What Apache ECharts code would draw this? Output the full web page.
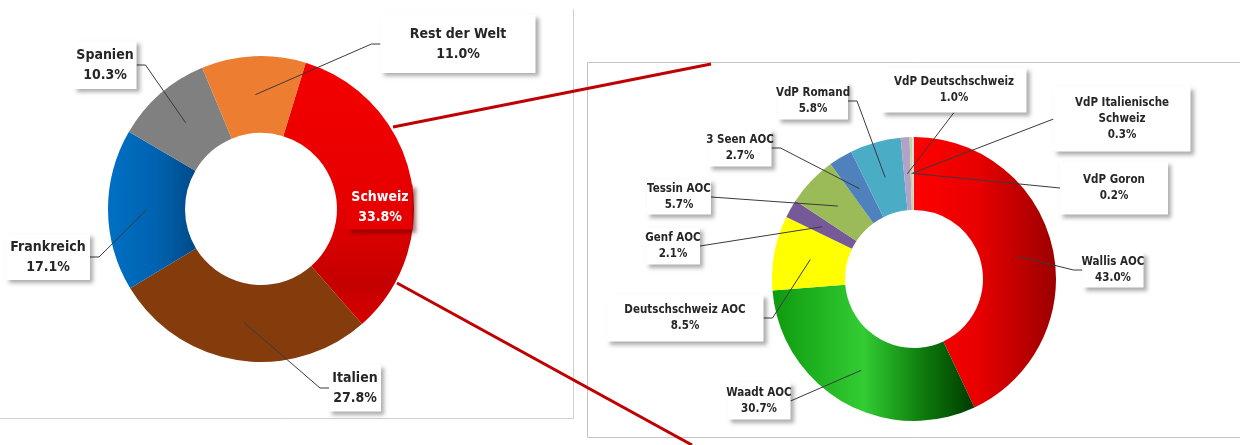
<!DOCTYPE html>
<html>
<head>
<meta charset="utf-8">
<script src="https://cdn.jsdelivr.net/npm/echarts@6/dist/echarts.min.js"></script>
<style>
  html, body { margin: 0; padding: 0; background: #fff; }
  #chart { width: 1240px; height: 445px; }
</style>
</head>
<body>
<div id="chart"></div>
<script>
// Herkunft der konsumierten Weine (links) und Aufteilung der Schweizer Weine (rechts)
const herkunft = ['Schweiz', 'Italien', 'Frankreich', 'Spanien', 'Rest der Welt'];
const herkunftAnteil = [33.8, 27.8, 17.1, 10.3, 11.0];

const regionen = ['Wallis AOC', 'Waadt AOC', 'Deutschschweiz AOC', 'Genf AOC', 'Tessin AOC',
  '3 Seen AOC', 'VdP Romand', 'VdP Deutschschweiz', 'VdP Italienische Schweiz', 'VdP Goron'];
const regionenAnteil = [43.0, 30.7, 8.5, 2.1, 5.7, 2.7, 5.8, 1.0, 0.3, 0.2];

// Geometrie der beiden Ringe (Pixel)
const geoLinks = { center: [261, 209], radius: [76, 153], start: 73 };
const geoRechts = { center: [914, 279], radius: [69, 142], start: 90 };

const FONT = '"Liberation Sans Narrow", "DejaVu Sans Condensed", "Arial Narrow", sans-serif';

function grad(x2, y2, stops) {
  return new echarts.graphic.LinearGradient(0, 0, x2, y2,
    stops.map(s => ({ offset: s[0], color: s[1] })));
}

const farbenLinks = [
  grad(0, 1, [[0, '#f40000'], [0.55, '#e60000'], [0.85, '#c40000'], [1, '#d80000']]),
  '#843c0c',
  grad(1, 0, [[0, '#0070c4'], [0.55, '#0062b0'], [1, '#004a88']]),
  '#808080',
  '#ed7d31'
];
const farbenRechts = [
  grad(1, 0, [[0, '#ff0000'], [0.45, '#e80000'], [1, '#9c0000']]),
  grad(1, 0, [[0, '#0e9a0e'], [0.45, '#33cc33'], [0.75, '#0c7a0c'], [1, '#003a00']]),
  '#ffff00',
  '#765a98',
  '#9bbb59',
  '#4f81bd',
  '#4bacc6',
  '#b3a2c7',
  '#c4d79b',
  '#dadada'
];

// Beschriftungskästen: Mitte x, Mitte y, Breite, Höhe, Anschlussseite der Linie
const kastenLinks = {
  'Schweiz':       [380, 207, 65, 45, ''],
  'Italien':       [355, 388, 52, 47, 'l'],
  'Frankreich':    [48, 257, 84, 46, 'r'],
  'Spanien':       [105, 65, 63, 48, 'r'],
  'Rest der Welt': [458, 44, 155, 58, 'l']
};
const kastenRechts = {
  'Wallis AOC':               [1113, 270, 61, 35, 'l'],
  'Waadt AOC':                [759, 401, 63, 37, 'r0'],
  'Deutschschweiz AOC':       [685, 318, 157, 47, 'r'],
  'Genf AOC':                 [673, 246, 54, 37, 'r0'],
  'Tessin AOC':               [679, 197, 64, 35, 'r0'],
  '3 Seen AOC':               [740, 148, 63, 37, 'r'],
  'VdP Romand':               [813, 101, 70, 37, 'r'],
  'VdP Deutschschweiz':       [954, 90, 145, 45, 'b'],
  'VdP Italienische Schweiz': [1122, 119, 137, 65, 'l0'],
  'VdP Goron':                [1114, 188, 108, 53, 'l0']
};

function text(name, wert) {
  return name.replace('Italienische ', 'Italienische\n') + '\n' + wert.toFixed(1) + '%';
}

function labelLayoutFn(namen, werte, geo, kasten) {
  const total = werte.reduce((a, b) => a + b, 0);
  const mitten = [];
  let cum = 0;
  werte.forEach(v => { mitten.push(geo.start - (cum + v / 2) / total * 360); cum += v; });
  const rMid = (geo.radius[0] + geo.radius[1]) / 2;
  return function (p) {
    const b = kasten[namen[p.dataIndex]];
    const a = mitten[p.dataIndex] * Math.PI / 180;
    const ax = geo.center[0] + rMid * Math.cos(a);
    const ay = geo.center[1] - rMid * Math.sin(a);
    let pts = null;
    const seite = b[4];
    if (seite[0] === 'l') {
      const ex = b[0] - b[2] / 2;
      const e = seite === 'l0' ? 0 : 9;
      pts = [[ax, ay], [ex - e, b[1]], [ex, b[1]]];
    } else if (seite[0] === 'r') {
      const ex = b[0] + b[2] / 2;
      const e = seite === 'r0' ? 0 : 9;
      pts = [[ax, ay], [ex + e, b[1]], [ex, b[1]]];
    } else if (seite === 'b') {
      const ey = b[1] + b[3] / 2;
      pts = [[ax, ay], [b[0], ey], [b[0], ey]];
    }
    const res = { x: b[0], y: b[1], align: 'center', verticalAlign: 'middle' };
    if (pts) res.labelLinePoints = pts;
    return res;
  };
}

// Ring ohne Beschriftung
function ring(geo, namen, werte, farben) {
  return {
    type: 'pie', z: 2, silent: true,
    center: geo.center, radius: geo.radius, startAngle: geo.start, clockwise: true,
    label: { show: false }, labelLine: { show: false },
    emphasis: { disabled: true },
    data: namen.map((n, i) => ({ name: n, value: werte[i], itemStyle: { color: farben[i] } }))
  };
}

// Unsichtbarer Ring darüber, der nur Kästen und Linien trägt
function beschriftung(geo, namen, werte, kasten, fontSize, lh) {
  const daten = namen.map((n, i) => {
    const b = kasten[n];
    const zeilen = text(n, werte[i]).split('\n').length;
    const pad = Math.max(0, (b[3] - zeilen * lh) / 2);
    const innen = b[4] === '';
    return {
      name: n,
      value: werte[i],
      label: {
        width: b[2],
        overflow: 'none',
        padding: [pad, 0, pad, 0],
        lineHeight: lh,
        fontSize: fontSize,
        color: innen ? '#ffffff' : '#262626',
        backgroundColor: innen ? '#e60000' : '#ffffff',
        shadowColor: innen ? 'rgba(90,0,0,0.55)' : 'rgba(0,0,0,0.32)'
      },
      labelLine: { show: !innen }
    };
  });
  return {
    type: 'pie', z: 4, silent: true,
    center: geo.center, radius: geo.radius, startAngle: geo.start, clockwise: true,
    avoidLabelOverlap: false,
    itemStyle: { color: 'rgba(0,0,0,0)' },
    emphasis: { disabled: true },
    label: {
      show: true,
      position: 'outside',
      formatter: p => text(p.name, p.value),
      fontFamily: FONT,
      fontWeight: 'bold',
      align: 'center',
      shadowBlur: 4,
      shadowOffsetX: 3,
      shadowOffsetY: 3
    },
    labelLine: { show: true, lineStyle: { color: '#3a3a3a', width: 1 } },
    labelLayout: labelLayoutFn(namen, werte, geo, kasten),
    data: daten
  };
}

const chart = echarts.init(document.getElementById('chart'), null, { renderer: 'canvas' });

chart.setOption({
  animation: false,
  backgroundColor: '#ffffff',
  graphic: [
    // Rahmen links
    { type: 'line', z: 0, shape: { x1: 573.5, y1: 9, x2: 573.5, y2: 418.5 }, style: { stroke: '#d0d0d0', lineWidth: 1 } },
    { type: 'line', z: 0, shape: { x1: 0, y1: 418.5, x2: 573.5, y2: 418.5 }, style: { stroke: '#d0d0d0', lineWidth: 1 } },
    // Rahmen rechts
    { type: 'line', z: 0, shape: { x1: 587.5, y1: 62.5, x2: 1240, y2: 62.5 }, style: { stroke: '#c4c4c4', lineWidth: 1 } },
    { type: 'line', z: 0, shape: { x1: 587.5, y1: 62.5, x2: 587.5, y2: 437.5 }, style: { stroke: '#c4c4c4', lineWidth: 1 } },
    { type: 'line', z: 0, shape: { x1: 587.5, y1: 437.5, x2: 1240, y2: 437.5 }, style: { stroke: '#c4c4c4', lineWidth: 1 } },
    // Verbindungslinien
    { type: 'line', z: 5, shape: { x1: 393, y1: 127, x2: 711, y2: 64 }, style: { stroke: '#c00000', lineWidth: 3 } },
    { type: 'line', z: 5, shape: { x1: 397, y1: 283, x2: 692, y2: 445 }, style: { stroke: '#c00000', lineWidth: 3 } }
  ],
  series: [
    ring(geoLinks, herkunft, herkunftAnteil, farbenLinks),
    ring(geoRechts, regionen, regionenAnteil, farbenRechts),
    beschriftung(geoLinks, herkunft, herkunftAnteil, kastenLinks, 14, 20),
    beschriftung(geoRechts, regionen, regionenAnteil, kastenRechts, 11.5, 16)
  ]
});
</script>
</body>
</html>
